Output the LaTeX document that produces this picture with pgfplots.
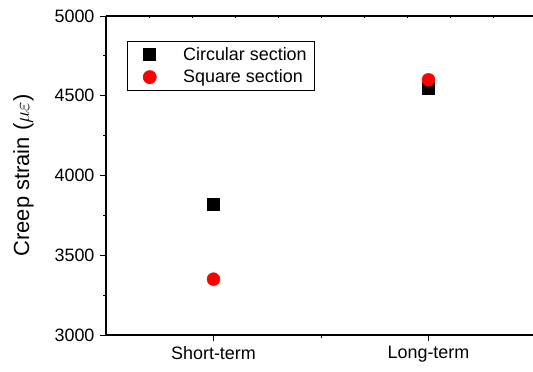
\documentclass[border=0pt]{standalone}
\usepackage{pgfplots}
\pgfplotsset{compat=1.18}
\usepackage{fontspec}
\setmainfont{Liberation Sans}

\pgfplotstableread{
x   circ   sq
0   3820   3350
1   4550   4600
}\creepdata

\begin{document}
\begin{tikzpicture}
\pgfplotsset{
  base/.style={
    scale only axis,
    width=427.85bp, height=319bp,
    xmin=-0.5, xmax=1.49,
    ymin=3000, ymax=5000,
    separate axis lines,
    axis line style={line width=1.1pt},
  },
}
% secondary axis: only small inward ticks on the top spine
\begin{axis}[base,
  axis x line*=top, axis y line=none,
  xtick={-0.3,-0.1,...,1.35}, xticklabels={},
  major tick length=2.5bp,
  tick style={line width=0.8pt, black},
  xtick pos=upper, xtick align=inside,
]
\end{axis}
\begin{axis}[base, name=ax,
  axis x line*=bottom, axis y line*=left,
  every outer x axis line/.append style={-}, every outer y axis line/.append style={-},
  xtick={0,1}, xticklabels={Short-term, Long-term},
  minor xtick={0.5},
  ytick={3000,3500,...,5000},
  minor ytick={3250,3750,4250,4750},
  tick style={line width=1pt, black},
  major tick length=6bp, minor tick length=3bp,
  xtick align=outside, ytick align=outside,
  minor tick style={/pgfplots/tick align=inside},
  tick label style={font=\fontsize{18}{21}\selectfont},
  /pgf/number format/assume math mode=true,
  /pgf/number format/1000 sep={},
  yticklabel style={xshift=-2bp},
  xticklabel style={yshift=-2bp},
  ylabel={Creep strain ($\mu\varepsilon$)},
  ylabel style={font=\fontsize{22}{26}\selectfont, yshift=14bp},
  legend image code/.code={%
    \path (0bp,0bp) (34bp,0bp);
    \draw[#1] plot coordinates {(16bp,0bp)};
  },
  legend style={
    at={(0.049,0.9216)}, anchor=north west,
    draw=black, line width=0.8pt,
    font=\fontsize{18}{21}\selectfont,
    inner xsep=6bp, inner ysep=4bp,
    row sep=4bp,
    /tikz/every odd column/.append style={column sep=13bp},
  },
  legend cell align=left,
]
\addplot[only marks, mark=square*, mark size=6bp, black] table[x=x, y=circ] {\creepdata};
\addlegendentry{Circular section}
\addplot[only marks, mark=*, mark size=6.5bp, red, mark options={draw=red, fill=red}] table[x=x, y=sq] {\creepdata};
\addlegendentry{Square section}
\end{axis}
% top spine across the full width
\draw[line width=1.1pt] (ax.north west) -- (427.85bp,319bp);
\pgfresetboundingbox
\path[use as bounding box] (-106bp,-37bp) rectangle (427bp,335bp);
\end{tikzpicture}
\end{document}
